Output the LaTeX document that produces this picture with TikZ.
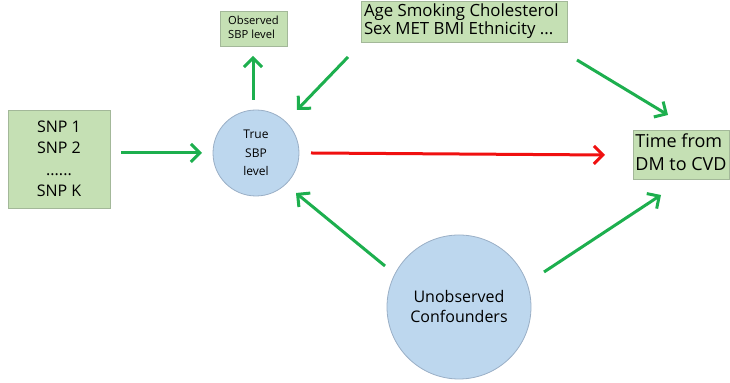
\documentclass[tikz,border=0pt]{standalone}
\usepackage{fontspec}
\setmainfont{Open Sans}
\usetikzlibrary{arrows.meta}
\definecolor{boxgreen}{HTML}{C5E0B4}
\definecolor{boxedge}{HTML}{A3B899}
\definecolor{circfill}{HTML}{BDD7EE}
\definecolor{circedge}{HTML}{9AAFC6}
\definecolor{arrgreen}{HTML}{1DAF4E}
\definecolor{arrred}{HTML}{F01010}
\tikzset{
  gbox/.style={draw=boxedge, fill=boxgreen, line width=0.4pt, inner sep=0pt},
  bcirc/.style={circle, draw=circedge, fill=circfill, line width=0.4pt, inner sep=0pt},
  garrow/.style={draw=arrgreen, line width=1.5pt, -{Straight Barb[length=4.5pt,width=9pt,line width=1.5pt]}},
  rarrow/.style={draw=arrred, line width=1.5pt, -{Straight Barb[length=4.5pt,width=9pt,line width=1.5pt]}}
}
\begin{document}
\begin{tikzpicture}[x=0.5pt,y=-0.5pt]
\path[use as bounding box] (0,0) rectangle (730,383);
% boxes
\node[gbox, minimum width=51pt, minimum height=49pt, align=center, font=\fontsize{8}{10.75}\selectfont] (snp) at (59,159) {SNP 1\\SNP 2\\......\\SNP K};
\node[gbox, minimum width=33.5pt, minimum height=17.5pt, font=\fontsize{5.6}{8}\selectfont] (obs) at (253.5,28.5) {\begin{tabular}{@{}l@{}}Observed\\[-1pt]SBP level\end{tabular}};
\node[gbox, minimum width=103pt, minimum height=20.5pt, font=\fontsize{8.4}{10.5}\selectfont] (cov) at (464,21.5) {\begin{tabular}{@{}p{100pt}@{}}Age Smoking Cholesterol\\[-1.3pt]Sex MET BMI Ethnicity ...\end{tabular}};
\node[gbox, minimum width=48pt, minimum height=24.5pt, font=\fontsize{9}{12}\selectfont] (time) at (681,154.5) {\begin{tabular}{@{}l@{}}Time from\\[-0.5pt]DM to CVD\end{tabular}};
% circles
\node[bcirc, minimum size=43pt, align=center, font=\fontsize{6}{9.2}\selectfont] (true) at (256,153) {True\\SBP\\level};
\node[bcirc, minimum size=72pt, align=center, font=\fontsize{8}{10}\selectfont] (unobs) at (459,307) {Unobserved\\Confounders};
% arrow end coordinates
\coordinate (a1s) at (121,153); \coordinate (a1e) at (202,153);
\coordinate (a2s) at (253,100); \coordinate (a2e) at (253,56);
\coordinate (a3s) at (348,57);  \coordinate (a3e) at (297,110);
\coordinate (a4s) at (577,60);  \coordinate (a4e) at (668,115);
\coordinate (a5s) at (311,153); \coordinate (a5e) at (605,155);
\coordinate (a6s) at (385,266); \coordinate (a6e) at (296,193);
\coordinate (a7s) at (544,272); \coordinate (a7e) at (661,195);
\draw[garrow] (a1s) -- (a1e);
\draw[garrow] (a2s) -- (a2e);
\draw[garrow] (a3s) -- (a3e);
\draw[garrow] (a4s) -- (a4e);
\draw[rarrow] (a5s) -- (a5e);
\draw[garrow] (a6s) -- (a6e);
\draw[garrow] (a7s) -- (a7e);
\end{tikzpicture}
\end{document}
